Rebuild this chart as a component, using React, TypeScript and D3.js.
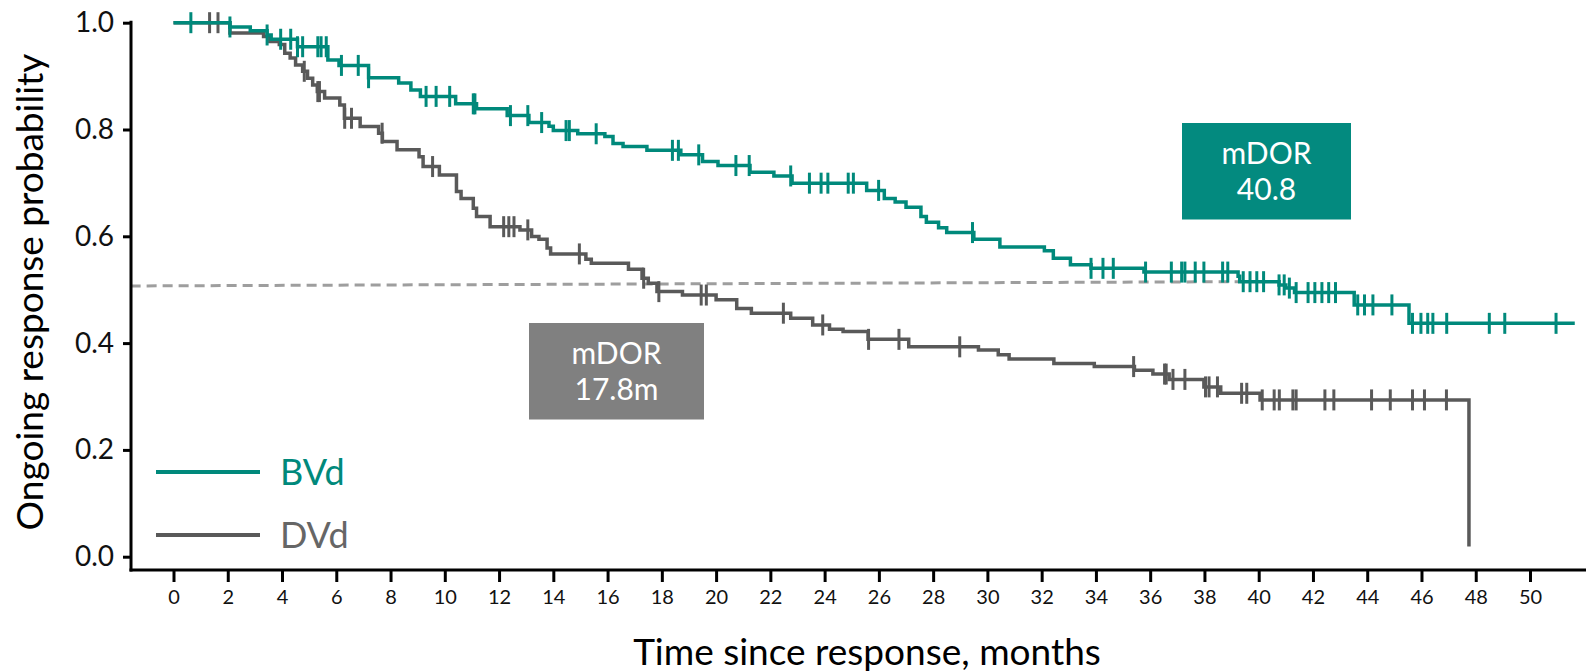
import React, { useEffect, useRef } from 'react';
import * as d3 from 'd3';

// BVd arm: event times (months) and the survival level after each step
const bvdTimes = [0, 2.08, 2.83, 3.45, 3.6, 4.57, 5.69, 6.1, 7.19, 8.3, 8.75, 9.1, 10.4, 11.17, 12.3, 13.1, 13.84, 14.0, 14.9, 15.9, 16.2, 16.57, 17.45, 18.7, 19.5, 20.07, 21.25, 22.13, 22.8, 25.55, 26.2, 26.6, 27.0, 27.55, 27.75, 28.2, 28.5, 29.5, 30.46, 32.1, 32.43, 33.06, 33.82, 35.77, 39.24, 39.3, 40.75, 41.0, 41.32, 43.52, 45.54];
const bvdSurv = [1.0, 0.992, 0.985, 0.977, 0.969, 0.955, 0.93, 0.92, 0.897, 0.887, 0.874, 0.862, 0.848, 0.839, 0.826, 0.813, 0.806, 0.798, 0.792, 0.787, 0.774, 0.768, 0.761, 0.7525, 0.74, 0.7325, 0.72, 0.713, 0.6995, 0.686, 0.671, 0.664, 0.6545, 0.637, 0.6265, 0.616, 0.607, 0.5945, 0.58, 0.573, 0.559, 0.5465, 0.54, 0.533, 0.525, 0.515, 0.509, 0.503, 0.4946, 0.4715, 0.437];
const bvdEnd = 51.65;
const bvdCensored = [0.64, 2.08, 3.45, 3.95, 4.32, 4.57, 4.76, 5.32, 5.44, 5.63, 6.19, 6.81, 7.19, 9.31, 9.68, 10.18, 11.05, 11.11, 12.42, 13.06, 13.57, 14.47, 14.59, 15.58, 18.39, 18.61, 19.36, 20.73, 21.22, 22.75, 23.44, 23.87, 24.12, 24.87, 25.06, 25.99, 29.45, 33.82, 34.26, 34.64, 35.83, 36.78, 37.16, 37.28, 37.66, 37.98, 38.67, 38.86, 39.43, 39.68, 39.93, 40.18, 40.75, 40.94, 41.13, 41.38, 41.82, 42.07, 42.33, 42.58, 42.83, 43.65, 43.9, 44.21, 44.91, 45.67, 45.98, 46.23, 46.42, 46.93, 48.5, 49.07, 50.96];

// DVd arm
const dvdTimes = [0, 2.08, 3.32, 3.55, 3.9, 4.1, 4.3, 4.5, 4.76, 4.94, 5.13, 5.3, 5.57, 6.13, 6.3, 6.88, 7.56, 7.7, 8.24, 9.05, 9.2, 9.8, 10.43, 10.6, 11.05, 11.17, 11.67, 12.77, 13.2, 13.47, 13.77, 13.9, 15.2, 15.4, 16.77, 17.27, 17.5, 17.82, 18.76, 20.0, 20.76, 21.3, 22.75, 23.56, 24.18, 24.68, 25.6, 27.1, 29.67, 30.4, 30.8, 32.45, 33.94, 35.42, 36.1, 36.7, 37.98, 38.6, 40.05, 47.75];
const dvdSurv = [1.0, 0.9805, 0.974, 0.965, 0.959, 0.943, 0.934, 0.921, 0.909, 0.896, 0.8835, 0.871, 0.859, 0.846, 0.821, 0.8055, 0.793, 0.7775, 0.762, 0.749, 0.7306, 0.715, 0.684, 0.671, 0.6527, 0.637, 0.618, 0.612, 0.5995, 0.5945, 0.578, 0.567, 0.557, 0.5497, 0.5384, 0.5215, 0.512, 0.4964, 0.49, 0.481, 0.465, 0.456, 0.4466, 0.434, 0.426, 0.4215, 0.407, 0.393, 0.387, 0.378, 0.37, 0.362, 0.356, 0.349, 0.342, 0.332, 0.318, 0.306, 0.2936, 0.019];
const dvdCensored = [1.33, 1.64, 4.82, 5.32, 5.38, 6.31, 6.56, 7.69, 9.55, 12.17, 12.36, 12.55, 13.06, 14.96, 17.33, 17.89, 19.45, 19.64, 22.48, 23.93, 25.62, 26.74, 28.98, 35.39, 36.53, 36.59, 36.84, 37.28, 38.04, 38.17, 38.48, 39.37, 39.56, 40.13, 40.57, 40.76, 41.26, 41.38, 42.44, 42.77, 44.16, 44.85, 45.67, 46.11, 46.92];

// median reference line (time, probability)
const medianLine = [[-1.58, 0.507], [39.25, 0.515]];

const xTicks = d3.range(0, 51, 2);
const yTicks = [0, 0.2, 0.4, 0.6, 0.8, 1.0];

const TEAL = '#00897b';
const GREY = '#595959';
const FONT = 'Lato, "Open Sans", sans-serif';

const App = () => {
  const svgRef = useRef(null);

  useEffect(() => {
    const svg = d3.select(svgRef.current);
    svg.selectAll('*').remove();

    const x = d3.scaleLinear().domain([0, 50]).range([173.5, 1530]);
    const y = d3.scaleLinear().domain([0, 1]).range([556.7, 22.7]);
    const axisY = 570;
    const axisX = 131;

    // dashed median line
    svg.append('line')
      .attr('x1', x(medianLine[0][0])).attr('y1', y(medianLine[0][1]))
      .attr('x2', x(medianLine[1][0])).attr('y2', y(medianLine[1][1]))
      .attr('stroke', '#9e9e9e').attr('stroke-width', 3)
      .attr('stroke-dasharray', '10 6');

    const line = d3.line()
      .x((d) => x(d[0]))
      .y((d) => y(d[1]))
      .curve(d3.curveStepAfter);

    const drawArm = (times, surv, end, censored, color) => {
      const pts = times.map((t, i) => [t, surv[i]]);
      if (end !== null) pts.push([end, surv[surv.length - 1]]);
      svg.append('path')
        .attr('d', line(pts))
        .attr('fill', 'none')
        .attr('stroke', color)
        .attr('stroke-width', 3.5);
      svg.append('g')
        .selectAll('line')
        .data(censored)
        .enter()
        .append('line')
        .attr('x1', (t) => x(t)).attr('x2', (t) => x(t))
        .attr('y1', (t) => y(surv[Math.max(0, d3.bisectRight(times, t) - 1)]) - 10.5)
        .attr('y2', (t) => y(surv[Math.max(0, d3.bisectRight(times, t) - 1)]) + 10.5)
        .attr('stroke', color)
        .attr('stroke-width', 3);
    };

    drawArm(dvdTimes, dvdSurv, null, dvdCensored, GREY);
    drawArm(bvdTimes, bvdSurv, bvdEnd, bvdCensored, TEAL);

    // axes
    const xAxis = svg.append('g')
      .attr('transform', `translate(0,${axisY})`)
      .call(d3.axisBottom(x).tickValues(xTicks).tickSize(12).tickSizeOuter(0).tickPadding(8));
    xAxis.select('.domain').remove();
    xAxis.selectAll('.tick line').attr('stroke', '#000').attr('stroke-width', 3);
    xAxis.selectAll('.tick text')
      .attr('font-family', FONT).attr('font-size', 20).attr('fill', '#111');

    const yAxis = svg.append('g')
      .attr('transform', `translate(${axisX},0)`)
      .call(d3.axisLeft(y).tickValues(yTicks).tickFormat(d3.format('.1f')).tickSize(8).tickSizeOuter(0).tickPadding(9));
    yAxis.select('.domain').remove();
    yAxis.selectAll('.tick line').attr('stroke', '#000').attr('stroke-width', 3);
    yAxis.selectAll('.tick text')
      .attr('font-family', FONT).attr('font-size', 28).attr('fill', '#111');

    svg.append('line')
      .attr('x1', axisX).attr('x2', axisX)
      .attr('y1', y(1) - 2).attr('y2', axisY + 1.5)
      .attr('stroke', '#000').attr('stroke-width', 3);
    svg.append('line')
      .attr('x1', axisX - 1.5).attr('x2', 1586)
      .attr('y1', axisY).attr('y2', axisY)
      .attr('stroke', '#000').attr('stroke-width', 3);

    // axis titles
    svg.append('text')
      .attr('x', 867).attr('y', 665)
      .attr('text-anchor', 'middle')
      .attr('font-family', FONT).attr('font-size', 37).attr('fill', '#000')
      .text('Time since response, months');
    svg.append('text')
      .attr('transform', 'translate(43,292) rotate(-90)')
      .attr('text-anchor', 'middle')
      .attr('font-family', FONT).attr('font-size', 37).attr('fill', '#000')
      .text('Ongoing response probability');

    // legend
    const legend = [
      { label: 'BVd', color: TEAL, text: TEAL, y: 472 },
      { label: 'DVd', color: GREY, text: '#666', y: 535 },
    ];
    legend.forEach((l) => {
      svg.append('line')
        .attr('x1', 156).attr('x2', 260).attr('y1', l.y).attr('y2', l.y)
        .attr('stroke', l.color).attr('stroke-width', 4);
      svg.append('text')
        .attr('x', 280).attr('y', l.y).attr('dy', '0.36em')
        .attr('font-family', FONT).attr('font-size', 36).attr('fill', l.text)
        .text(l.label);
    });

    // mDOR boxes
    const boxes = [
      { x0: 1182, x1: 1351, y0: 123, y1: 219.5, fill: '#038a7f', lines: ['mDOR', '40.8'] },
      { x0: 529, x1: 704, y0: 323, y1: 419.5, fill: '#808080', lines: ['mDOR', '17.8m'] },
    ];
    boxes.forEach((b) => {
      svg.append('rect')
        .attr('x', b.x0).attr('y', b.y0)
        .attr('width', b.x1 - b.x0).attr('height', b.y1 - b.y0)
        .attr('fill', b.fill);
      b.lines.forEach((t, i) => {
        svg.append('text')
          .attr('x', (b.x0 + b.x1) / 2)
          .attr('y', b.y0 + 30 + i * 36.5)
          .attr('dy', '0.36em')
          .attr('text-anchor', 'middle')
          .attr('font-family', FONT).attr('font-size', 30).attr('fill', '#fff')
          .text(t);
      });
    });
  }, []);

  return (
    <svg
      ref={svgRef}
      width={1586}
      height={672}
      style={{ position: 'absolute', left: 0, top: 0, background: '#fff' }}
    />
  );
};

export default App;
